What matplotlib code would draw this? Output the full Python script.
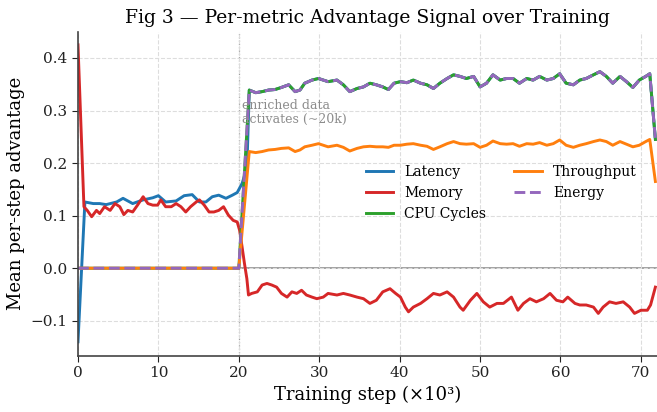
import numpy as np
import matplotlib

matplotlib.use('Agg')
import matplotlib.pyplot as plt

# training steps (x10^3) and per-metric advantage
lat_steps = [0, 0.86, 1.9, 2.7, 3.5, 4.8, 5.6, 6.8, 8.1, 9.3, 10.0, 10.9, 12.2,
             13.2, 14.2, 15.1, 15.9, 16.7, 17.5, 18.4, 19.2, 19.8, 20.4, 21.0]
lat_early = [-0.140, 0.126, 0.123, 0.123, 0.121, 0.126, 0.133, 0.123, 0.130,
             0.134, 0.138, 0.126, 0.128, 0.138, 0.140, 0.126, 0.126, 0.136,
             0.139, 0.133, 0.139, 0.144, 0.161, 0.190]

steps = [0.0, 20.0, 21.3, 22.1, 22.9, 23.7, 24.5, 25.3, 26.2, 27.0, 27.6, 28.2,
         29.1, 29.9, 30.5, 31.1, 32.2, 33.0, 33.8, 34.7, 35.5, 36.3, 37.1, 37.9,
         38.6, 39.3, 40.1, 40.9, 41.7, 42.6, 43.4, 44.2, 45.0, 45.9, 46.7, 47.5,
         48.3, 49.2, 50.0, 50.8, 51.6, 52.5, 53.3, 54.1, 54.9, 55.8, 56.6, 57.4,
         58.3, 59.1, 59.9, 60.7, 61.6, 62.4, 63.2, 64.1, 64.9, 65.7, 66.5, 67.4,
         68.2, 69.0, 69.8, 70.6, 71.1, 71.8]
energy = [0.0, 0.0, 0.339, 0.334, 0.336, 0.339, 0.340, 0.344, 0.349, 0.336, 0.339,
          0.352, 0.358, 0.361, 0.358, 0.355, 0.358, 0.349, 0.336, 0.342, 0.345,
          0.352, 0.349, 0.345, 0.340, 0.352, 0.355, 0.353, 0.358, 0.352, 0.349,
          0.342, 0.352, 0.361, 0.368, 0.365, 0.361, 0.365, 0.345, 0.352, 0.368,
          0.358, 0.361, 0.361, 0.352, 0.361, 0.358, 0.365, 0.358, 0.361, 0.370,
          0.352, 0.349, 0.358, 0.361, 0.368, 0.374, 0.365, 0.352, 0.365, 0.355,
          0.344, 0.358, 0.365, 0.370, 0.245]
cpu_cycles = list(energy)
throughput = [0.0, 0.0, 0.222, 0.220, 0.222, 0.225, 0.226, 0.228, 0.229, 0.222,
              0.225, 0.231, 0.234, 0.237, 0.234, 0.231, 0.234, 0.230, 0.223,
              0.228, 0.231, 0.232, 0.231, 0.231, 0.230, 0.234, 0.234, 0.236,
              0.237, 0.234, 0.232, 0.226, 0.231, 0.237, 0.241, 0.237, 0.236,
              0.237, 0.230, 0.234, 0.242, 0.237, 0.236, 0.237, 0.232, 0.237,
              0.236, 0.239, 0.234, 0.237, 0.244, 0.234, 0.230, 0.234, 0.237,
              0.241, 0.244, 0.241, 0.234, 0.241, 0.236, 0.231, 0.234, 0.241,
              0.245, 0.165]

mem_steps = [0, 0.74, 1.15, 1.7, 2.3, 2.7, 3.3, 4.0, 4.6, 5.2, 5.7, 6.2, 6.8, 7.4,
             8.1, 8.7, 9.3, 9.9, 10.3, 10.9, 11.6, 12.2, 12.8, 13.4, 14.0, 14.7,
             15.1, 15.7, 16.3, 16.9, 17.5, 18.1, 18.7, 19.3, 19.8, 20.1, 20.4,
             20.7, 21.0, 21.2, 21.6, 22.3, 22.9, 23.5, 24.1, 24.7, 25.3, 26.0,
             26.6, 27.2, 27.8, 28.4, 29.1, 29.7, 30.5, 31.1, 32.2, 33.0, 33.8,
             34.7, 35.5, 36.3, 37.1, 37.9, 38.8, 39.5, 40.1, 40.7, 41.1, 41.7,
             42.6, 43.4, 44.2, 45.0, 45.9, 46.7, 47.5, 47.9, 48.8, 49.6, 50.4,
             51.2, 52.1, 52.9, 53.9, 54.7, 55.4, 56.2, 57.0, 57.9, 58.7, 59.5,
             60.3, 60.9, 61.8, 62.4, 63.2, 64.1, 64.7, 65.3, 66.1, 66.9, 67.8,
             68.6, 69.2, 70.0, 70.8, 71.2, 71.8]
memory = [0.425, 0.117, 0.110, 0.098, 0.110, 0.104, 0.117, 0.110, 0.123, 0.117,
          0.102, 0.110, 0.107, 0.120, 0.136, 0.123, 0.120, 0.120, 0.130, 0.117,
          0.117, 0.123, 0.117, 0.107, 0.117, 0.126, 0.130, 0.120, 0.107, 0.107,
          0.110, 0.117, 0.101, 0.091, 0.088, 0.072, 0.041, 0.009, -0.020, -0.051,
          -0.048, -0.045, -0.032, -0.029, -0.032, -0.036, -0.048, -0.055, -0.045,
          -0.048, -0.042, -0.051, -0.055, -0.058, -0.055, -0.048, -0.051, -0.048,
          -0.051, -0.055, -0.058, -0.067, -0.061, -0.045, -0.039, -0.048, -0.055,
          -0.074, -0.083, -0.074, -0.067, -0.058, -0.048, -0.051, -0.045, -0.055,
          -0.074, -0.080, -0.061, -0.048, -0.064, -0.074, -0.067, -0.067, -0.055,
          -0.080, -0.067, -0.058, -0.064, -0.058, -0.048, -0.061, -0.064, -0.055,
          -0.067, -0.070, -0.070, -0.074, -0.086, -0.074, -0.064, -0.067, -0.064,
          -0.074, -0.086, -0.080, -0.080, -0.070, -0.036]

# after the switch latency sits right under cpu/energy
latency_x = lat_steps + steps[2:]
latency = lat_early + energy[2:]

plt.rcParams['font.family'] = 'DejaVu Serif'

fig = plt.figure(figsize=(6.57, 4.12), dpi=100)
ax = fig.add_axes([0.1187, 0.136, 0.8813, 0.787])

LW = 2.1
ax.plot(latency_x, latency, color='#1f77b4', lw=LW, label='Latency')
ax.plot(mem_steps, memory, color='#d62728', lw=LW, label='Memory')
ax.plot(steps, cpu_cycles, color='#2ca02c', lw=LW, label='CPU Cycles')
ax.plot(steps, throughput, color='#ff7f0e', lw=LW, label='Throughput')
ax.plot(steps, energy, color='#9467bd', lw=LW, ls='--', label='Energy')

ax.axhline(0, color='#999999', lw=1.3, zorder=0)
ax.axvline(20, color='#999999', lw=0.9, ls=':', zorder=0)
ax.text(20.4, 0.322, 'enriched data\nactivates (~20k)', color='#8c8c8c',
        fontsize=9, va='top', ha='left', linespacing=1.05)

ax.set_xlim(0, 72)
ax.set_ylim(-0.167, 0.45)
ax.set_xticks([0, 10, 20, 30, 40, 50, 60, 70])
ax.set_yticks([-0.1, 0.0, 0.1, 0.2, 0.3, 0.4])
ax.grid(True, ls='--', color='#dddddd', lw=0.8)
ax.set_axisbelow(True)
for s in ['top', 'right']:
    ax.spines[s].set_visible(False)
for s in ['left', 'bottom']:
    ax.spines[s].set_color('#444444')
    ax.spines[s].set_linewidth(1.2)
ax.tick_params(labelsize=11, colors='#222222', length=4)

ax.set_xlabel('Training step (×10³)', fontsize=13)
ax.set_ylabel('Mean per-step advantage', fontsize=13)
ax.set_title('Fig 3 — Per-metric Advantage Signal over Training', fontsize=13.5)
ax.legend(ncol=2, frameon=False, fontsize=10, loc='upper left',
          bbox_to_anchor=(0.475, 0.628))

fig.savefig('out.png', dpi=100)
